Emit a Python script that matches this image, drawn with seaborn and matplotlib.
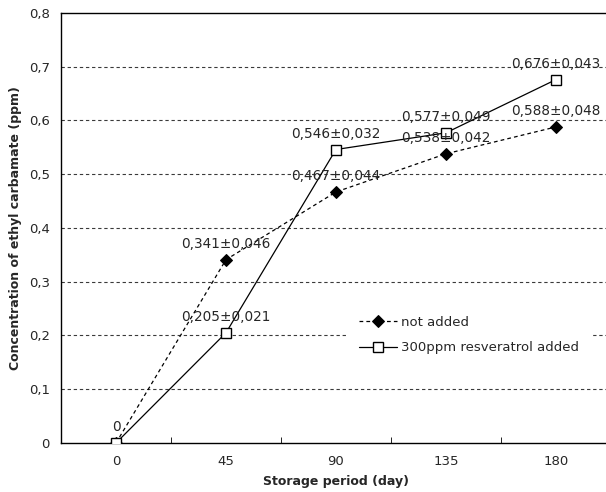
import matplotlib
matplotlib.use("Agg")
import matplotlib.pyplot as plt
import seaborn as sns

days = [0, 45, 90, 135, 180]
not_added = [0.0, 0.341, 0.467, 0.538, 0.588]
not_added_sd = [None, 0.046, 0.044, 0.042, 0.048]
resveratrol = [0.0, 0.205, 0.546, 0.577, 0.676]
resveratrol_sd = [None, 0.021, 0.032, 0.049, 0.043]
series_names = ["not added", "300ppm resveratrol added"]
y_ticks = [0, 0.1, 0.2, 0.3, 0.4, 0.5, 0.6, 0.7, 0.8]


def fmt(v):
    return f"{v:g}".replace(".", ",")


def label_text(v, sd):
    if sd is None:
        return fmt(v)
    return f"{v:.3f}±{sd:.3f}".replace(".", ",")


sns.set_style("white")
plt.rcParams["font.family"] = ["DejaVu Sans"]

fig, ax = plt.subplots(figsize=(6.06, 4.92), dpi=100)
fig.subplots_adjust(left=0.1007, right=1.008, bottom=0.0996, top=0.9736)

for y in y_ticks[1:-1]:
    ax.axhline(y, color="#3a3a3a", lw=0.8, ls=(0, (3, 2.5)), zorder=0)

sns.lineplot(x=days, y=not_added, color="black", linewidth=0.9, linestyle=(0, (3, 2.5)),
             marker="D", markersize=6, markerfacecolor="black", markeredgecolor="black",
             label=series_names[0], ax=ax, zorder=3)
sns.lineplot(x=days, y=resveratrol, color="black", linewidth=0.9, linestyle="-",
             marker="s", markersize=7, markerfacecolor="white", markeredgecolor="black",
             markeredgewidth=1.0, label=series_names[1], ax=ax, zorder=3)

for x, v, sd in zip(days, not_added, not_added_sd):
    if x == 0:
        continue
    ax.annotate(label_text(v, sd), (x, v), xytext=(0, 11.5), textcoords="offset points",
                ha="center", va="center", fontsize=9.8, zorder=5)
for x, v, sd in zip(days, resveratrol, resveratrol_sd):
    ax.annotate(label_text(v, sd), (x, v), xytext=(0, 11.5), textcoords="offset points",
                ha="center", va="center", fontsize=9.8, zorder=5)

ax.set_xlim(-22.5, 202.5)
ax.set_ylim(0, 0.8)
ax.set_xticks(days)
ax.set_xticklabels([str(d) for d in days])
ax.set_xticks([22.5, 67.5, 112.5, 157.5], minor=True)
ax.tick_params(axis="x", which="major", length=0, labelsize=9.5, pad=9)
ax.tick_params(axis="x", which="minor", length=4, direction="in", color="black", bottom=True)
ax.set_yticks(y_ticks)
ax.set_yticklabels([fmt(t) for t in y_ticks])
ax.tick_params(axis="y", length=0, labelsize=9.5, pad=8)

for side in ["left", "bottom", "top"]:
    ax.spines[side].set_color("black")
    ax.spines[side].set_linewidth(1.0)
ax.spines["right"].set_visible(False)

ax.set_xlabel("Storage period (day)", fontsize=9, fontweight="bold", labelpad=5)
ax.set_ylabel("Concentration of ethyl carbamate (ppm)", fontsize=9, fontweight="bold", labelpad=5)

leg = ax.legend(loc="center", bbox_to_anchor=(0.742, 0.251), frameon=True, fontsize=9.5,
                handlelength=2.9, handletextpad=0.3, labelspacing=0.95, borderpad=0.8)
leg.get_frame().set_edgecolor("white")
leg.get_frame().set_facecolor("white")
leg.get_frame().set_alpha(1)
leg.set_zorder(4)

fig.savefig("out.png", dpi=100)
